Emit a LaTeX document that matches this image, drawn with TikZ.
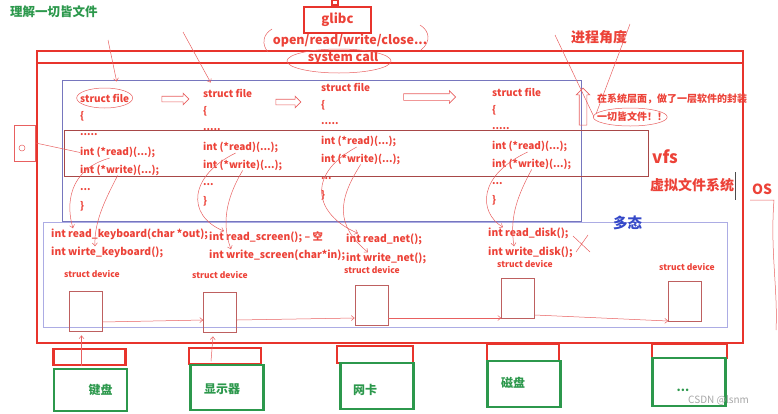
\documentclass[tikz,border=0pt]{standalone}
\usepackage{fontspec}
\setmainfont{Noto Sans CJK SC}
\usepackage{xcolor}
\usetikzlibrary{
    arrows.meta,
    positioning,
    calc,
    shapes.arrows
}
\definecolor{osred}{RGB}{232,52,44}
\definecolor{txtred}{RGB}{236,66,56}
\definecolor{scrib}{RGB}{232,96,96}
\definecolor{vfsblue}{RGB}{118,118,190}
\definecolor{devblue}{RGB}{172,172,228}
\definecolor{bandbrown}{RGB}{168,72,72}
\definecolor{devbrown}{RGB}{190,96,96}
\definecolor{hwgreen}{RGB}{44,152,76}
\definecolor{polyblue}{RGB}{52,72,200}
\tikzset{
    code/.style={
        text=txtred,
        font=\bfseries\fontsize{10}{12}\selectfont,
        anchor=west,
        inner sep=0pt
    }
}
\tikzset{
    drv/.style={
        code,
        font=\bfseries\fontsize{10.3}{12}\selectfont
    }
}
\tikzset{
    devlabel/.style={
        code,
        font=\bfseries\fontsize{8.5}{10}\selectfont
    }
}
\tikzset{
    headtxt/.style={
        text=txtred,
        font=\bfseries\fontsize{12.5}{14}\selectfont,
        inner sep=0pt
    }
}
\tikzset{
    osframe/.style={
        draw=osred,
        line width=2.6pt
    }
}
\tikzset{
    vfsbox/.style={
        draw=vfsblue,
        line width=0.8pt
    }
}
\tikzset{
    band/.style={
        draw=bandbrown,
        line width=0.8pt
    }
}
\tikzset{
    devframe/.style={
        draw=devblue,
        line width=1pt
    }
}
\tikzset{
    devbox/.style={
        draw=devbrown,
        line width=0.7pt,
        minimum width=33pt,
        minimum height=40pt,
        inner sep=0pt
    }
}
\tikzset{
    portbox/.style={
        draw=osred,
        line width=2.5pt,
        minimum width=72pt,
        minimum height=16pt,
        inner sep=0pt
    }
}
\tikzset{
    hwbox/.style={
        draw=hwgreen,
        line width=2.5pt,
        minimum width=73pt,
        minimum height=45pt,
        inner sep=0pt
    }
}
\tikzset{
    hwlabel/.style={
        text=hwgreen,
        font=\bfseries\fontsize{12}{14}\selectfont,
        inner sep=0pt
    }
}
\tikzset{
    hollow/.style={
        single arrow,
        draw=scrib,
        line width=0.6pt,
        single arrow head extend=3pt,
        single arrow head indent=0pt,
        inner sep=0pt
    }
}
\tikzset{
    scribble/.style={
        draw=scrib,
        line width=0.5pt,
        >={Straight Barb[length=3pt,width=5pt]}
    }
}

\begin{document}
\begin{tikzpicture}[x=1pt, y=-1pt]
\useasboundingbox (0,0) rectangle (778,413);

% top: title, glibc, syscalls
\node[anchor=west, inner sep=0pt, text=hwgreen, font=\bfseries\fontsize{12.5}{14}\selectfont]
    (title) at (10,12) {理解一切皆文件};
\node[draw=osred, line width=2.4pt, minimum width=67pt, minimum height=26pt,
    text=txtred, font=\bfseries\fontsize{13}{15}\selectfont] (glibc) at (337.5,20) {glibc};
\draw[draw=osred, line width=1.5pt] (332,0) rectangle (338,5);
\node[headtxt] (api) at (350,41) {open/read/write/close...};
\node[headtxt] (syscall) at (343,58) {system call};
\node[headtxt, anchor=west, font=\bfseries\fontsize{14}{16}\selectfont] (view) at (571,37) {进程角度};

% the OS frame
\draw[osframe] (37,51) rectangle (743,343);
\draw[osframe] (37,63) -- (743,63);

% vfs layer
\draw[vfsbox] (62,80) rectangle (581,221);
\draw[band] (64,130) rectangle (648,176);
\foreach \i/\x/\y in {1/80/98, 2/203/93, 3/321/87, 4/492/92}{
    \node[code] (sf\i) at (\x,\y) {struct file};
    \node[code] (ob\i) at (\x,\y+18.5) {\{};
    \node[code] (dt\i) at (\x,\y+37) {.....};
    \node[code] (rd\i) at (\x,\y+54.5) {int (*read)(...);};
    \node[code] (wr\i) at (\x,\y+72) {int (*write)(...);};
    \node[code] (el\i) at (\x,\y+92) {...};
    \node[code] (cb\i) at (\x,\y+108.5) {\}};
}
\node[hollow, minimum height=27pt] (ha1) at (174,99) {\rule{0pt}{5pt}};
\node[hollow, minimum height=25pt] (ha2) at (287,102) {\rule{0pt}{5pt}};
\node[hollow, minimum height=52pt] (ha3) at (428,97) {\rule{0pt}{6pt}};
\node[hollow, minimum height=37pt, shape border rotate=90] (ha4) at (583,108.5) {\rule{7pt}{0pt}};

\node[code, font=\bfseries\fontsize{10}{12}\selectfont] (wrap) at (597,99)
    {在系统层面，做了一层软件的封装};
\node[code, font=\bfseries\fontsize{10}{12}\selectfont] (allfile) at (597,117)
    {一切皆文件！！};
\node[code, font=\bfseries\fontsize{17}{19}\selectfont] (vfs) at (652,157) {vfs};
\node[code, font=\bfseries\fontsize{14}{16}\selectfont] (vfsname) at (650,185) {虚拟文件系统};
\node[code, font=\bfseries\fontsize{14}{16}\selectfont] (os) at (752,189) {OS};
\draw[draw=black!70, line width=0.8pt] (735,172) -- (735,200);

% driver layer
\draw[devframe] (43,222) rectangle (727,327);
\node[anchor=west, inner sep=0pt, text=polyblue, font=\bfseries\fontsize{14.5}{16}\selectfont]
    (poly) at (613,223) {多态};
\node[drv] (kr) at (51,234) {int read\_keyboard(char *out);};
\node[drv] (kw) at (51,252) {int wirte\_keyboard();};
\node[drv] (sr) at (209,237) {int read\_screen(); -- 空};
\node[drv] (sw) at (209,255) {int write\_screen(char*in);};
\node[drv] (nr) at (346,239) {int read\_net();};
\node[drv] (nw) at (346,258) {int write\_net();};
\node[drv] (dr) at (488,233) {int read\_disk();};
\node[drv] (dw) at (488,252) {int write\_disk();};

\node[devlabel] (dl1) at (64,274) {struct device};
\node[devlabel] (dl2) at (192,275) {struct device};
\node[devlabel] (dl3) at (344,270) {struct device};
\node[devlabel] (dl4) at (497,264) {struct device};
\node[devlabel] (dl5) at (659,267) {struct device};

\node[devbox] (dev1) at (85.5,311) {};
\node[devbox] (dev2) at (220,312) {};
\node[devbox] (dev3) at (371.5,305.5) {};
\node[devbox] (dev4) at (518,298.5) {};
\node[devbox] (dev5) at (685,301) {};

\draw[scribble,->] ([yshift=-11pt]dev1.east) -- ([yshift=-8pt]dev2.west);
\draw[scribble,->] ([yshift=-8pt]dev2.east) -- ([yshift=-12.5pt]dev3.west);
\draw[scribble,->] ([yshift=-12.5pt]dev3.east) -- ([yshift=-19.5pt]dev4.west);
\draw[scribble,->] ([yshift=-16.5pt]dev4.east) -- ([yshift=-20pt]dev5.west);

% hardware
\node[portbox] (port1) at (89.5,357) {};
\node[portbox] (port2) at (225,356) {};
\node[portbox, minimum width=76pt, minimum height=17pt] (port3) at (375,354.5) {};
\node[portbox, minimum height=17pt] (port4) at (523,352.5) {};
\node[portbox, minimum width=75pt, minimum height=14pt] (port5) at (689.5,351) {};

\node[hwbox, minimum height=42pt] (hw1) at (90.5,390) {};
\node[hwbox] (hw2) at (227,387.5) {};
\node[hwbox, minimum height=46pt] (hw3) at (377,386) {};
\node[hwbox, minimum height=46pt] (hw4) at (524,384) {};
\node[hwbox, minimum height=48pt] (hw5) at (689,382) {};
\node[hwlabel] (kbd) at ([xshift=10pt]hw1.center) {键盘};
\node[hwlabel] (scr) at ([xshift=-5pt,yshift=-2pt]hw2.center) {显示器};
\node[hwlabel] (nic) at ([xshift=-12pt,yshift=-4pt]hw3.center) {网卡};
\node[hwlabel] (dsk) at ([xshift=-11pt,yshift=1pt]hw4.center) {磁盘};
\node[hwlabel] (more) at ([xshift=-6pt,yshift=-8pt]hw5.center) {...};

\draw[scribble,->] ([xshift=-8pt]port1.south) -- ([xshift=-4pt,yshift=-4pt]dev1.south);
\draw[scribble,->] ([xshift=-14pt,yshift=4pt]port2.south) -- ([xshift=-7pt,yshift=-4pt]dev2.south);

% hand marks
\coordinate (p1) at (108,40);
\coordinate (p2) at (183,32);
\draw[scribble,->] (p1) -- ([xshift=12pt,yshift=12pt]sf1.north);
\draw[scribble,->] (p2) -- ([xshift=-17pt,yshift=6pt]sf2.north);
\coordinate (v1) at (555,35);
\coordinate (v2) at (630,24);
\draw[scribble] (v1) -- ([xshift=-3pt]allfile.west);
\draw[scribble] (v2) -- ([xshift=-1pt,yshift=3pt]allfile.west);
\draw[scribble] (sf1.center) ellipse [x radius=28pt, y radius=10pt];
\draw[scribble] ([xshift=-4pt,yshift=-3pt]syscall.center) ellipse [x radius=52pt, y radius=12pt];
\draw[scribble] ([xshift=-2pt]allfile.center) ellipse [x radius=37pt, y radius=9pt];
\draw[scribble] (272,29) .. controls (262,35) and (262,45) .. (268,52);
\draw[scribble] (420,25) .. controls (430,31) and (431,42) .. (421,50);

\node[draw=scrib, line width=0.5pt, minimum width=21pt, minimum height=36pt] (icon) at (25,143) {};
\draw[scribble] (22,148) circle (3pt);
\draw[scribble] (icon.east) -- (rd1.west);

\draw[scribble,->] ([xshift=-8pt]rd1.south) .. controls (68,170) and (66,205) .. ([xshift=22pt]kr.north west);
\draw[scribble,->] ([xshift=-2pt]wr1.south) .. controls (105,200) and (94,222) .. ([xshift=44pt]kw.north west);
\draw[scribble,->] ([xshift=-5pt]rd2.south) .. controls (190,175) and (185,215) .. ([xshift=15pt]sr.north west);
\draw[scribble,->] (wr2.south) .. controls (225,200) and (222,225) .. ([xshift=22pt]sw.north west);
\draw[scribble,->] ([xshift=-2pt]rd3.south) .. controls (305,175) and (315,215) .. ([xshift=12pt]nr.north west);
\draw[scribble,->] (wr3.south) .. controls (338,200) and (335,225) .. ([xshift=22pt]nw.north west);
\draw[scribble,->] ([xshift=-2pt]rd4.south) .. controls (478,175) and (478,212) .. ([xshift=15pt]dr.north west);
\draw[scribble,->] (wr4.south) .. controls (515,200) and (510,220) .. ([xshift=26pt]dw.north west);

\draw[scribble] (573,236) -- (590,252) (588,235) -- (576,252);
\draw[scribble] (750,200) -- (774,200) .. controls (770,250) and (778,290) .. (776,330);

\node[anchor=west, inner sep=0pt, text=black!35, font=\fontsize{10}{12}\selectfont]
    (mark) at (688,400) {CSDN @lsnm};

\end{tikzpicture}
\end{document}
